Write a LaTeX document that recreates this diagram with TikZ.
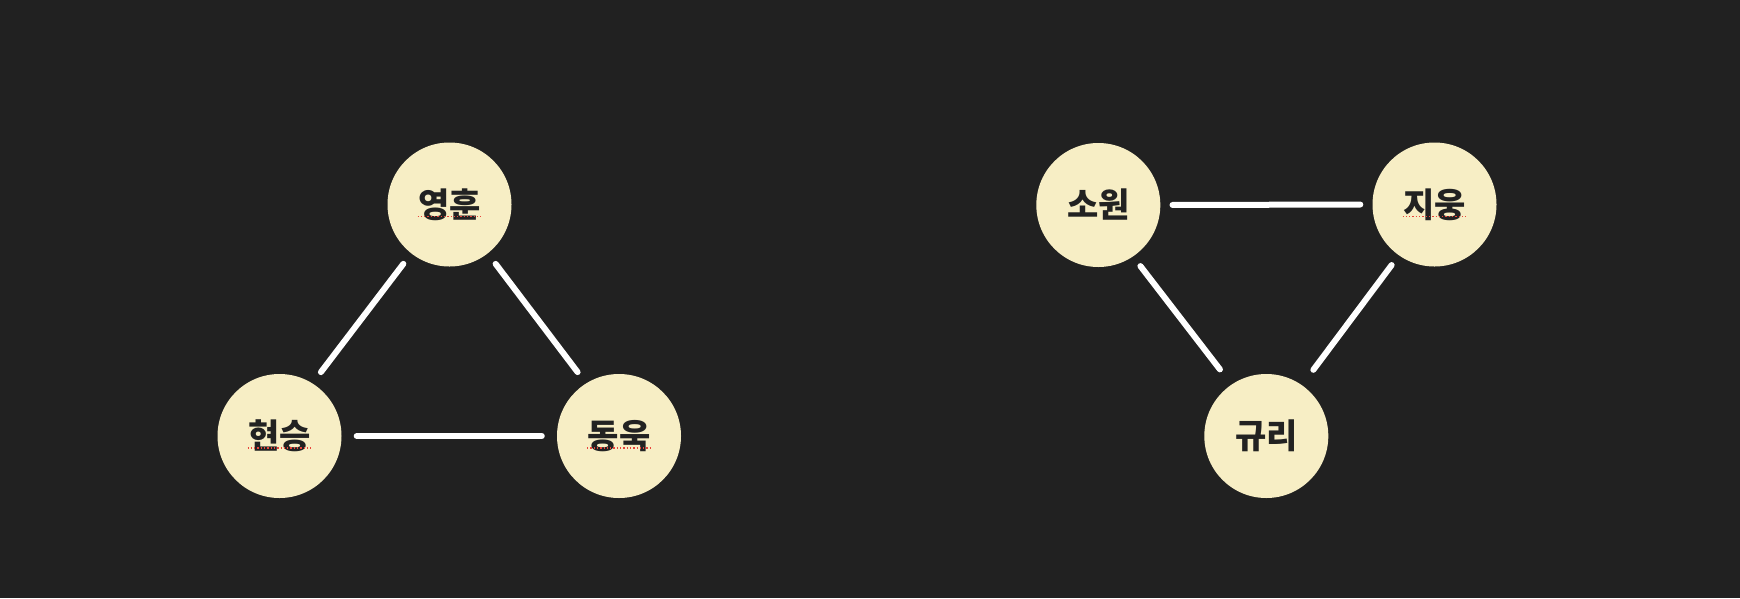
\documentclass[tikz,border=0pt]{standalone}
\usepackage{fontspec}
\newfontfamily\kr{Noto Sans CJK KR}
\definecolor{bg}{HTML}{212121}
\definecolor{cream}{HTML}{F7EEC5}
\definecolor{ink}{HTML}{222222}
\definecolor{spellred}{HTML}{E8453C}
\begin{document}
\begin{tikzpicture}[x=1pt,y=-1pt,
  person/.style={circle,fill=cream,minimum size=124pt,inner sep=0pt,
    font=\kr\bfseries\fontsize{34}{34}\selectfont,text=ink},
  link/.style={draw=white,line width=6pt,line cap=round,shorten >=15pt,shorten <=15pt},
  diag/.style={link,shorten >=14pt,shorten <=13pt},
  spell/.style={draw=spellred,line width=1.3pt,dotted}]
\fill[bg] (0,0) rectangle (1740,598);
\useasboundingbox (0,0) rectangle (1740,598);
% left group
\node[person] (yh) at (449.5,204.5) {영훈};
\node[person] (hs) at (279.5,436) {현승};
\node[person] (dw) at (619,436) {동욱};
% right group
\node[person] (sw) at (1098.3,205) {소원};
\node[person] (jw) at (1434.5,204.5) {지웅};
\node[person] (gr) at (1266.3,436) {규리};
% connectors
\draw[diag] (yh.232) -- (hs.58);
\draw[diag] (yh.308) -- (dw.122);
\draw[link] (hs.east) -- (dw.west);
\draw[link,shorten >=12pt,shorten <=12pt] (sw.east) -- (jw.west);
\draw[diag,shorten <=12pt,shorten >=19pt] (sw.304.5) -- (gr.124.4);
\draw[diag,shorten <=12pt,shorten >=19pt] (jw.235.6) -- (gr.55.6);
% spell-check marks
\draw[spell] ([xshift=-32pt,yshift=-12pt]yh.center) -- ++(63,0);
\draw[spell] ([xshift=-32pt,yshift=-12pt]hs.center) -- ++(63,0);
\draw[spell] ([xshift=-32pt,yshift=-12pt]dw.center) -- ++(63,0);
\draw[spell] ([xshift=-32pt,yshift=-12pt]jw.center) -- ++(63,0);
\end{tikzpicture}
\end{document}
